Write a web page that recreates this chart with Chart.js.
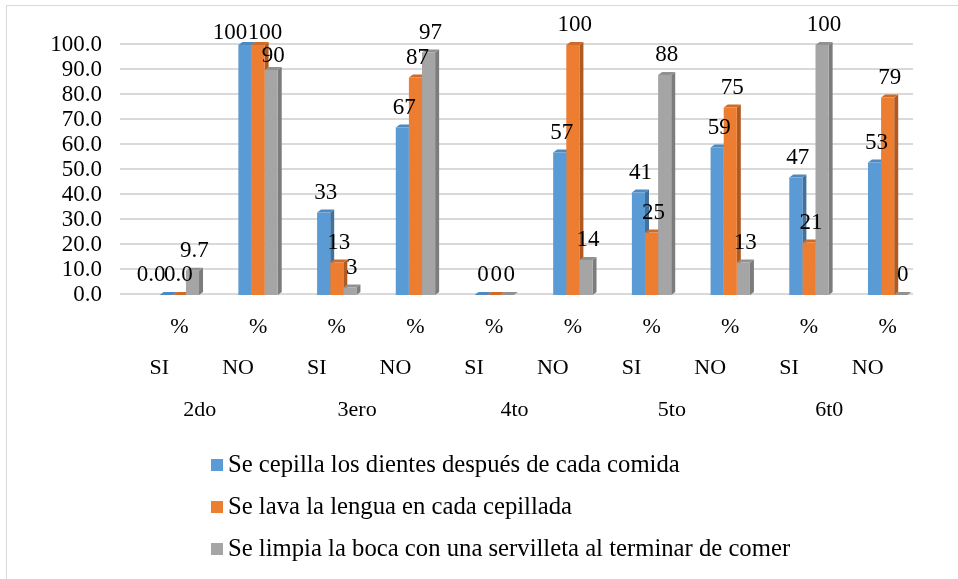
<!DOCTYPE html>
<html>
<head>
<meta charset="utf-8">
<script src="https://cdn.jsdelivr.net/npm/chart.js@4/dist/chart.umd.min.js"></script>
<style>
  html, body { margin: 0; padding: 0; background: #fff; }
</style>
</head>
<body>
<canvas id="myChart" width="958" height="579"></canvas>
<script>
// data
var grades = ['2do', '3ero', '4to', '5to', '6t0'];
var answers = ['SI', 'NO', 'SI', 'NO', 'SI', 'NO', 'SI', 'NO', 'SI', 'NO'];
var categories = ['%', '%', '%', '%', '%', '%', '%', '%', '%', '%'];
var cepillaDientes = [0.0, 100, 33, 67, 0, 57, 41, 59, 47, 53];
var lavaLengua = [0.0, 100, 13, 87, 0, 100, 25, 75, 21, 79];
var limpiaBoca = [9.7, 90, 3, 97, 0, 14, 88, 13, 100, 0];
var labelDecimals = [1, 0, 0, 0, 0, 0, 0, 0, 0, 0];
var seriesNames = [
  'Se cepilla los dientes después de cada comida',
  'Se lava la lengua en cada cepillada',
  'Se limpia la boca con una servilleta al terminar de comer'
];

var FONT = "'Liberation Serif', 'Times New Roman', serif";
var colors = ['#5B9BD5', '#ED7D31', '#A5A5A5'];
var sideColors = ['#41719C', '#AE5A21', '#7C7C7C'];
var topColors = ['#4F89BF', '#CF6B28', '#919191'];

// hand nudges for the crowded labels (dataset-index)
var labelNudge = {
  '0-0': [-17, 0], '1-0': [-3, 0],
  '0-1': [-17, 8], '1-1': [5, 8], '2-1': [0, 6]
};

var extras = {
  id: 'extras',
  beforeDraw(chart) {
    var ctx = chart.ctx;
    ctx.save();
    ctx.strokeStyle = '#D9D9D9';
    ctx.lineWidth = 1;
    ctx.strokeRect(6.5, 5.5, 1000, 1000);
    ctx.restore();
  },
  beforeDatasetsDraw(chart) {
    var ctx = chart.ctx, area = chart.chartArea, y = chart.scales.y;
    ctx.save();
    // back wall gridlines
    ctx.strokeStyle = '#D9D9D9';
    ctx.lineWidth = 2;
    for (var v = 0; v <= 100; v += 10) {
      var py = Math.round(y.getPixelForValue(v)) - 1;
      ctx.beginPath();
      ctx.moveTo(area.left - 20, py);
      ctx.lineTo(area.right - 14, py);
      ctx.stroke();
    }
    // 3d side and top faces
    var dx = 4, dy = 3;
    chart.data.datasets.forEach(function (ds, d) {
      chart.getDatasetMeta(d).data.forEach(function (bar) {
        var p = bar.getProps(['x', 'y', 'base', 'width'], true);
        var l = p.x - p.width / 2, r = p.x + p.width / 2;
        ctx.fillStyle = sideColors[d];
        ctx.beginPath();
        ctx.moveTo(r, p.y); ctx.lineTo(r + dx, p.y - dy);
        ctx.lineTo(r + dx, p.base - dy); ctx.lineTo(r, p.base);
        ctx.closePath(); ctx.fill();
        ctx.fillStyle = topColors[d];
        ctx.beginPath();
        ctx.moveTo(l, p.y); ctx.lineTo(l + dx, p.y - dy);
        ctx.lineTo(r + dx, p.y - dy); ctx.lineTo(r, p.y);
        ctx.closePath(); ctx.fill();
      });
    });
    ctx.restore();
  },
  afterDatasetsDraw(chart) {
    var ctx = chart.ctx;
    ctx.save();
    ctx.font = '23px ' + FONT;
    ctx.fillStyle = '#000';
    ctx.textAlign = 'center';
    ctx.textBaseline = 'alphabetic';
    chart.data.datasets.forEach(function (ds, d) {
      chart.getDatasetMeta(d).data.forEach(function (bar, i) {
        var p = bar.getProps(['x', 'y'], true);
        var n = labelNudge[d + '-' + i] || [0, 0];
        ctx.fillText(ds.data[i].toFixed(labelDecimals[i]), p.x + 2 + n[0], p.y - 14 + n[1]);
      });
    });
    ctx.restore();
  },
  afterDraw(chart) {
    var ctx = chart.ctx, x = chart.scales.x;
    ctx.save();
    ctx.fillStyle = '#000';
    ctx.textAlign = 'center';
    ctx.textBaseline = 'middle';
    ctx.font = '22px ' + FONT;
    answers.forEach(function (a, i) {
      ctx.fillText(a, x.getPixelForValue(i) - 20, 368);
    });
    grades.forEach(function (g, k) {
      var mid = (x.getPixelForValue(2 * k) + x.getPixelForValue(2 * k + 1)) / 2;
      ctx.fillText(g, mid - 19, 410);
    });
    // legend, one entry per line
    ctx.textAlign = 'left';
    ctx.font = '24.7px ' + FONT;
    seriesNames.forEach(function (s, d) {
      var cy = 465 + d * 42;
      ctx.fillStyle = colors[d];
      ctx.fillRect(211, cy - 6, 12, 12);
      ctx.fillStyle = '#000';
      ctx.fillText(s, 228, cy + 1);
    });
    ctx.restore();
  }
};

var ctx = document.getElementById('myChart').getContext('2d');
var chart = new Chart(ctx, {
  type: 'bar',
  data: {
    labels: categories,
    datasets: [
      { label: seriesNames[0], data: cepillaDientes, backgroundColor: colors[0] },
      { label: seriesNames[1], data: lavaLengua, backgroundColor: colors[1] },
      { label: seriesNames[2], data: limpiaBoca, backgroundColor: colors[2] }
    ]
  },
  options: {
    responsive: false,
    animation: false,
    layout: { padding: { top: 45, right: 31, bottom: 0, left: 0 } },
    datasets: { bar: { categoryPercentage: 0.5, barPercentage: 1 } },
    plugins: {
      legend: { display: false },
      tooltip: { enabled: false }
    },
    scales: {
      x: {
        grid: { display: false, drawTicks: false },
        border: { display: false },
        ticks: { color: '#000', font: { family: FONT, size: 22 }, padding: 19, maxRotation: 0 },
        afterFit(scale) { scale.height = 284; }
      },
      y: {
        min: 0, max: 100,
        grid: { display: false, drawTicks: false },
        border: { display: false },
        ticks: {
          stepSize: 10, autoSkip: false, color: '#000', padding: 38,
          font: { family: FONT, size: 23 },
          callback: function (v) { return v.toFixed(1); }
        },
        afterFit(scale) {
          scale.width = 140;
          // tick padding otherwise pushes the plot top down
          scale.paddingTop = 0;
          scale.paddingBottom = 0;
        }
      }
    }
  },
  plugins: [extras]
});
</script>
</body>
</html>
